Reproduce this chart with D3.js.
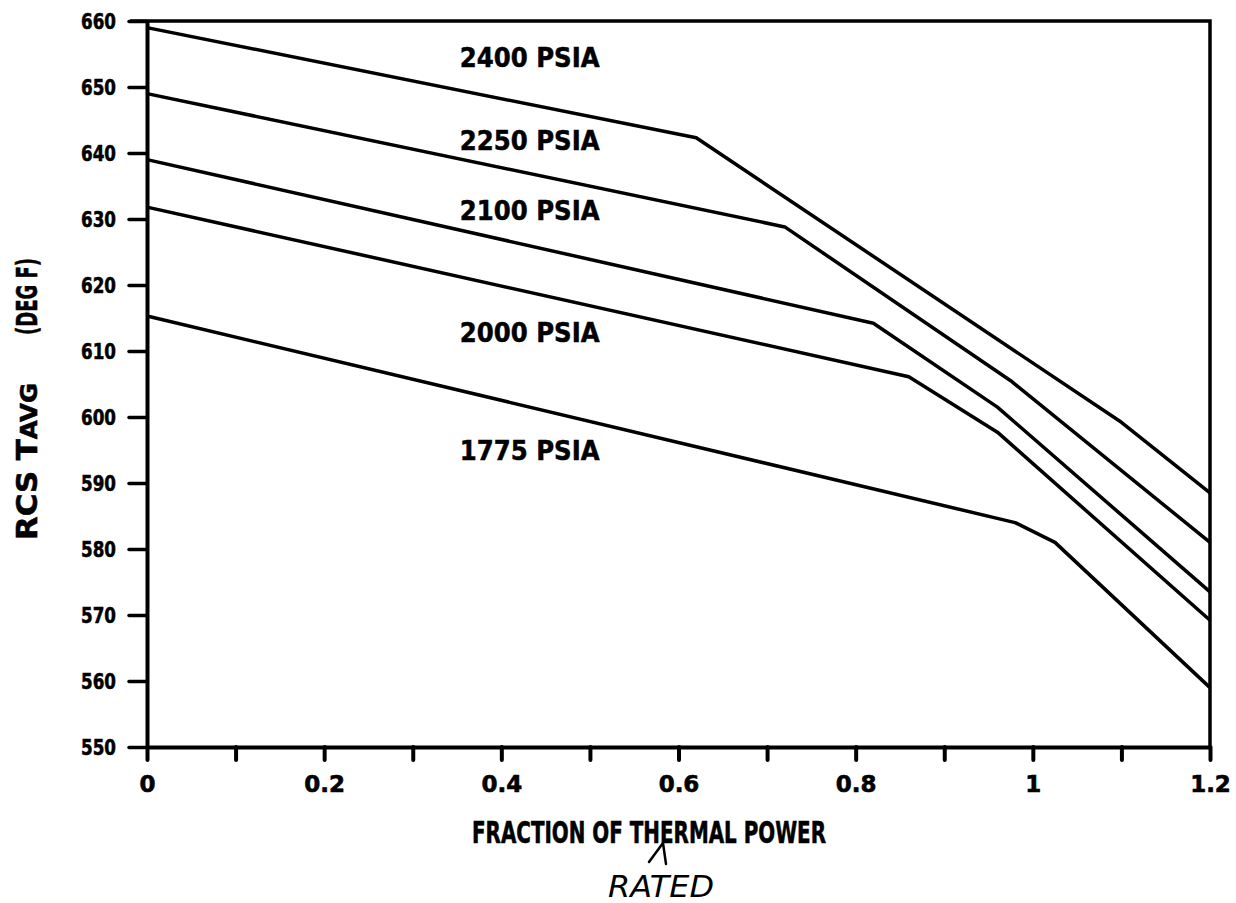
<!DOCTYPE html>
<html>
<head>
<meta charset="utf-8">
<script src="https://cdn.jsdelivr.net/npm/d3@7"></script>
<style>
  body { margin: 0; background: #fff; }
  svg { display: block; }
  .axis text { font-family: "DejaVu Sans", sans-serif; font-weight: bold; fill: #000; }
  .curve-label, .axis-title { font-family: "DejaVu Sans", sans-serif; font-weight: bold; fill: #000; }
</style>
</head>
<body>
<div class="chart-container"></div>
<script>
// pressure curves: fraction of rated thermal power -> RCS Tavg (deg F)
const pressures = ['2400 PSIA', '2250 PSIA', '2100 PSIA', '2000 PSIA', '1775 PSIA'];
const power2400 = [0, 0.62, 1.1, 1.2];
const tavg2400  = [659, 642.3, 599.2, 588.5];
const power2250 = [0, 0.72, 0.975, 1.2];
const tavg2250  = [649, 628.8, 605.5, 581];
const power2100 = [0, 0.82, 0.96, 1.2];
const tavg2100  = [639, 614.2, 601.5, 573.5];
const power2000 = [0, 0.86, 0.96, 1.2];
const tavg2000  = [631.8, 606.1, 597.7, 569.2];
const power1775 = [0, 0.98, 1.025, 1.2];
const tavg1775  = [615.3, 584, 581, 559];

// where the pressure labels sit (data units)
const labelPower = 0.353;
const labelTavg = [653, 640.5, 629.8, 611.4, 593.5];

const xTicks = d3.range(0, 13).map(i => i / 10);
const yTicks = d3.range(550, 661, 10);

const curves = [
    {power: power2400, tavg: tavg2400},
    {power: power2250, tavg: tavg2250},
    {power: power2100, tavg: tavg2100},
    {power: power2000, tavg: tavg2000},
    {power: power1775, tavg: tavg1775}
].map((c, i) => ({name: pressures[i], pts: c.power.map((p, j) => [p, c.tavg[j]])}));

const svg_width = 1236;
const svg_height = 903;
const margin = {top: 21, right: 26, bottom: 156, left: 147};
const width = svg_width - margin.left - margin.right;
const height = svg_height - margin.top - margin.bottom;

const svg = d3.select('.chart-container').append('svg')
    .attr('width', svg_width).attr('height', svg_height);
const g = svg.append('g').attr('transform', `translate(${margin.left},${margin.top})`);

const xScale = d3.scaleLinear().domain([0, 1.2]).range([0, width]);
const yScale = d3.scaleLinear().domain([550, 660]).range([height, 0]);

// frame (top + right)
g.append('path')
    .attr('d', `M${-17},0H${width}V${height}`)
    .attr('fill', 'none').attr('stroke', '#000').attr('stroke-width', 3.5);

// x axis
const xAxis = d3.axisBottom(xScale)
    .tickValues(xTicks)
    .tickSize(13).tickSizeOuter(0)
    .tickFormat(d => (Math.round(d * 10) % 2 === 0 ? d3.format('~g')(d) : ''));
const xAxisDraw = g.append('g').attr('class', 'x axis')
    .attr('transform', `translate(0,${height})`)
    .call(xAxis);
xAxisDraw.select('.domain').attr('stroke-width', 4);
xAxisDraw.selectAll('.tick line').attr('stroke-width', 4).attr('stroke-linecap', 'round');
xAxisDraw.selectAll('text').attr('y', 45).attr('dy', 0)
    .style('font-size', '23px').style('stroke', '#000').style('stroke-width', 0.6);

// y axis
const yAxis = d3.axisLeft(yScale)
    .tickValues(yTicks)
    .tickSize(18).tickSizeOuter(0).tickPadding(13);
const yAxisDraw = g.append('g').attr('class', 'y axis').call(yAxis);
yAxisDraw.select('.domain').attr('stroke-width', 4);
yAxisDraw.selectAll('.tick line').attr('stroke-width', 3.5).attr('stroke-linecap', 'round');
yAxisDraw.selectAll('text')
    .style('font-size', '22px').style('stroke', '#000').style('stroke-width', 0.6)
    .attr('textLength', 35).attr('lengthAdjust', 'spacingAndGlyphs')
    .attr('dy', '0.36em');

// curves
const line = d3.line().x(d => xScale(d[0])).y(d => yScale(d[1]));
g.selectAll('.curve')
    .data(curves)
    .enter()
    .append('path').attr('class', 'curve')
    .attr('d', d => line(d.pts))
    .attr('fill', 'none')
    .attr('stroke', '#000')
    .attr('stroke-width', 3.5)
    .attr('stroke-linejoin', 'round');

// pressure labels
g.selectAll('.curve-label')
    .data(pressures)
    .enter()
    .append('text').attr('class', 'curve-label')
    .attr('x', xScale(labelPower))
    .attr('y', (d, i) => yScale(labelTavg[i]))
    .attr('textLength', 140).attr('lengthAdjust', 'spacingAndGlyphs')
    .style('font-size', '27px').style('stroke', '#000').style('stroke-width', 0.5)
    .text(d => d);

// x title
svg.append('text').attr('class', 'axis-title')
    .attr('x', 472).attr('y', 843)
    .attr('textLength', 354).attr('lengthAdjust', 'spacingAndGlyphs')
    .style('font-size', '31px').style('stroke', '#000').style('stroke-width', 0.6)
    .text('FRACTION OF THERMAL POWER');

// handwritten note
svg.append('path')
    .attr('d', 'M649,862 L663,843 L666,864')
    .attr('fill', 'none').attr('stroke', '#000').attr('stroke-width', 2.5)
    .attr('stroke-linecap', 'round');
svg.append('text')
    .attr('x', 608).attr('y', 897)
    .attr('textLength', 106).attr('lengthAdjust', 'spacingAndGlyphs')
    .style('font-family', '"DejaVu Sans", sans-serif')
    .style('font-style', 'italic')
    .style('font-size', '30px')
    .text('RATED');

// y title, one rotated group per piece, squeezed along the baseline
function yTitlePiece(yBottom, len, build){
    const grp = svg.append('g');
    const t = grp.append('text').attr('class', 'axis-title')
        .attr('font-size', 29).style('stroke', '#000').style('stroke-width', 0.6);
    build(t);
    const w = t.node().getComputedTextLength();
    grp.attr('transform', `translate(37,${yBottom}) rotate(-90) scale(${len / w},1)`);
}
yTitlePiece(540, 157, t => {
    t.append('tspan').text('RCS T');
    t.append('tspan').attr('font-size', 23).text('AVG');
});
yTitlePiece(335, 77, t => t.text('(DEG F)'));
</script>
</body>
</html>
